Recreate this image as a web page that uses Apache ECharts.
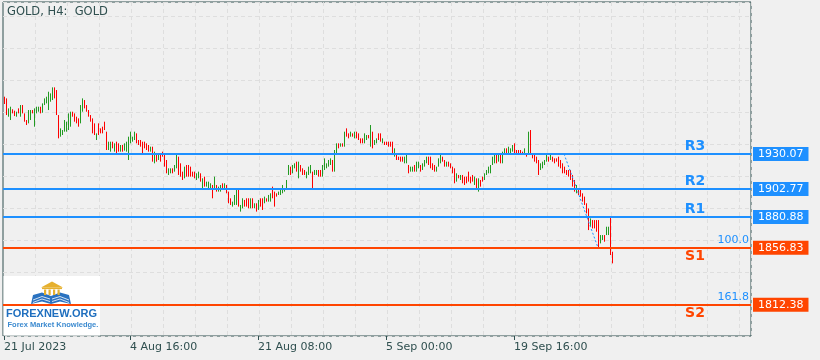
<!DOCTYPE html>
<html><head><meta charset="utf-8">
<script src="https://cdn.jsdelivr.net/npm/echarts@6/dist/echarts.min.js"></script>
<style>html,body{margin:0;padding:0;background:#f0f0f0;}#c{width:820px;height:360px;}</style>
</head><body><div id="c"></div>
<script>
// ---- data (H4 candles, prices) ----
const opens = [
1974.8,1973.5,1959.2,1956.6,1965.0,1963.9,1959.2,1965.7,1959.2,1968.3,
1961.8,1956.6,1954.0,1956.6,1964.4,1951.4,1961.8,1963.1,1967.0,1962.3,
1968.3,1969.6,1964.4,1970.9,1972.2,1982.1,1980.0,1960.5,1943.6,1944.9,
1947.5,1947.5,1948.8,1951.4,1963.1,1961.8,1959.2,1957.9,1954.0,1963.1,
1972.2,1968.3,1964.4,1960.5,1957.9,1954.0,1941.0,1954.0,1950.1,1951.4,
1955.3,1947.5,1933.2,1931.9,1939.7,1931.9,1939.7,1938.4,1931.9,1937.1,
1932.7,1931.9,1925.4,1938.4,1939.7,1941.0,1946.2,1941.0,1941.0,1939.7,
1939.7,1938.4,1937.1,1931.9,1935.8,1922.8,1929.3,1925.4,1930.6,1931.9,
1929.3,1925.4,1913.7,1915.0,1918.9,1916.3,1918.9,1928.0,1922.8,1916.3,
1911.1,1921.5,1921.5,1920.2,1916.3,1916.3,1909.8,1911.1,1915.0,1903.3,
1912.4,1904.6,1903.3,1903.3,1905.9,1903.3,1905.9,1900.7,1900.7,1907.2,
1902.0,1905.9,1900.7,1895.5,1889.0,1890.3,1890.3,1902.0,1885.1,1887.7,
1894.2,1895.5,1895.5,1887.7,1895.5,1887.7,1891.6,1886.4,1895.5,1895.5,
1891.6,1895.5,1892.9,1892.9,1904.6,1900.7,1899.4,1898.1,
1898.1,1899.4,1900.7,1902.0,1913.7,1920.2,1915.0,1918.9,1924.1,1911.1,
1921.5,1918.9,1917.6,1911.1,1913.7,1915.0,1916.3,1913.7,1913.7,1917.6,
1917.6,1912.4,1917.6,1918.9,1920.2,1921.5,1925.4,1916.3,1930.6,1938.4,
1935.8,1938.4,1935.8,1950.1,1946.2,1943.6,1946.2,1942.3,1947.5,1946.2,
1942.3,1942.3,1938.4,1941.0,1944.9,1935.8,1947.5,1937.1,1938.4,1946.2,
1946.2,1938.4,1939.7,1939.7,1939.7,1939.7,1939.7,1928.0,1929.3,1928.0,
1928.0,1928.0,1922.8,1922.8,1921.5,1916.3,1916.3,1921.5,1916.3,1918.9,
1921.5,1917.6,1920.2,1922.8,1928.0,1928.0,1922.8,1921.5,1916.3,1920.2,
1922.8,1928.0,1925.4,1920.2,1924.1,1922.8,1920.2,1918.9,1908.5,1913.7,
1909.8,1913.7,1912.4,1912.4,1916.3,1912.4,1913.7,1905.9,1911.1,1900.7,
1909.8,1912.4,1909.8,1913.7,1915.0,1915.0,1921.5,1922.8,1929.3,1924.1,
1929.3,1922.8,1930.6,1934.5,1930.6,1930.6,1931.9,1938.4,1933.2,1933.2,
1933.2,1931.9,1929.3,1930.6,1929.3,1948.8,1930.6,1930.6,1928.0,1925.4,
1917.6,1918.9,1921.5,1924.1,1928.0,1925.4,1928.0,1926.7,1926.7,1928.0,
1925.4,1922.8,1920.2,1917.6,1917.6,1917.6,1913.7,1909.8,1899.4,1903.3,
1902.0,1899.4,1896.8,1891.6,1887.6,1873.3,1878.5,1878.5,1878.5,1878.5,
1860.3,1862.9,1866.8,1866.8,1866.8,1881.1,1853.8
];
const closes = [
1969.1,1960.5,1965.7,1967.0,1961.8,1959.7,1963.1,1961.8,1968.3,1961.8,
1955.3,1952.7,1964.4,1964.4,1961.8,1965.7,1967.0,1967.0,1961.8,1969.6,
1973.5,1974.8,1978.7,1977.4,1982.1,1973.5,1960.5,1942.3,1950.1,1948.8,
1956.6,1955.3,1961.8,1963.1,1959.2,1955.3,1954.0,1951.4,1968.3,1973.5,
1965.7,1963.1,1959.2,1955.3,1946.2,1944.9,1946.2,1944.9,1946.2,1946.2,
1948.8,1933.2,1939.7,1939.7,1934.5,1938.4,1930.6,1931.9,1937.1,1931.9,
1938.4,1939.7,1943.6,1947.5,1943.6,1947.5,1938.4,1937.1,1935.8,1930.6,
1934.5,1933.2,1931.9,1935.8,1924.1,1931.9,1924.1,1929.3,1924.1,1928.0,
1920.2,1915.0,1918.9,1918.9,1915.0,1921.5,1929.3,1913.7,1912.4,1909.8,
1920.2,1912.4,1912.4,1912.4,1912.4,1911.1,1915.0,1916.3,1908.5,1911.1,
1904.6,1908.5,1908.5,1907.2,1895.5,1912.4,1900.7,1904.6,1905.9,1903.3,
1907.2,1899.4,1891.6,1890.3,1892.9,1898.1,1902.0,1889.0,1890.3,1895.5,
1889.0,1889.0,1887.7,1895.5,1887.7,1891.6,1885.1,1894.2,1889.0,1886.4,
1896.8,1892.9,1898.1,1899.4,1895.5,1889.0,1896.8,1900.7,
1902.0,1905.9,1903.3,1909.8,1921.5,1913.7,1921.5,1922.8,1916.3,1924.1,
1916.3,1913.7,1913.7,1916.3,1920.2,1921.5,1903.3,1917.6,1917.6,1912.4,
1912.4,1921.5,1926.7,1922.8,1925.4,1926.7,1916.3,1933.2,1938.4,1934.5,
1938.4,1935.8,1947.5,1943.6,1942.3,1947.5,1943.6,1947.5,1942.3,1941.0,
1938.4,1938.4,1946.2,1944.9,1942.3,1952.7,1934.5,1941.0,1942.3,1941.0,
1939.7,1942.3,1937.1,1937.1,1935.8,1935.8,1930.6,1934.5,1925.4,1925.4,
1924.1,1924.1,1928.0,1929.3,1915.0,1920.2,1920.2,1916.3,1924.1,1924.1,
1916.3,1922.8,1925.4,1928.0,1921.5,1918.9,1917.6,1916.3,1920.2,1926.7,
1929.3,1924.1,1920.2,1924.1,1920.2,1918.9,1915.0,1907.2,1915.0,1911.1,
1913.7,1907.2,1905.9,1907.2,1908.5,1907.2,1908.5,1912.4,1902.0,1911.1,
1904.6,1908.5,1915.0,1917.6,1920.2,1921.5,1928.0,1930.6,1922.8,1930.6,
1922.8,1931.9,1934.5,1930.6,1935.8,1934.5,1937.1,1930.6,1930.6,1930.6,
1929.3,1929.3,1934.5,1928.0,1947.5,1929.3,1926.7,1924.1,1922.8,1913.7,
1922.8,1924.1,1925.4,1929.3,1924.1,1929.3,1924.1,1922.8,1924.1,1920.2,
1918.9,1915.0,1915.0,1913.7,1912.4,1909.8,1904.6,1900.7,1905.9,1898.1,
1896.8,1892.9,1890.3,1883.7,1870.7,1879.8,1872.0,1872.0,1869.4,1857.0,
1866.8,1866.8,1861.6,1873.3,1873.3,1851.2,1844.7
];
const xLabels = ['21 Jul 2023','4 Aug 16:00','21 Aug 08:00','5 Sep 00:00','19 Sep 16:00'];
const xLabelIdx = [0, 63, 127, 191, 255];
const slotCount = 374;
const levelValues = [1930.07, 1902.77, 1880.88, 1856.83, 1812.38];
const levelNames = ['R3', 'R2', 'R1', 'S1', 'S2'];
const fibLevelNames = ['', '', '', '100.0', '161.8'];
const fibLine = [[280, 1930.2], [297, 1857.0]];
const chartTitle = 'GOLD, H4:  GOLD';

// ---- build ----
const BLUE = '#1e90ff', RED = '#ff4500', INK = '#2f4f4f';
const BULL = '#229a22', BEAR = '#ff0000';
const cats = [];
for (let i = 0; i < slotCount; i++) {
  const k = xLabelIdx.indexOf(i);
  cats.push(k >= 0 ? xLabels[k] : '');
}
const candleData = opens.map((o, i) => [i, o, closes[i]]);
const isRes = n => n.charAt(0) === 'R';

const chart = echarts.init(document.getElementById('c'), null, {renderer: 'canvas'});
const levelLines = levelValues.map((v, i) => ({
  yAxis: v,
  lineStyle: {color: isRes(levelNames[i]) ? BLUE : RED, width: 2, type: 'solid'},
  label: {
    show: true, position: 'end', distance: 2,
    formatter: v.toFixed(2),
    color: '#ffffff', fontSize: 11, fontFamily: 'DejaVu Sans',
    backgroundColor: isRes(levelNames[i]) ? BLUE : RED,
    padding: [1, 5, 0, 5], lineHeight: 13
  }
}));
levelLines.push([
  {coord: fibLine[0], lineStyle: {color: BLUE, width: 1, type: [2, 2]}, label: {show: false}},
  {coord: fibLine[1]}
]);

function renderCandle(params, api) {
  const i = api.value(0), o = api.value(1), c = api.value(2);
  const p1 = api.coord([i, o]);
  const p2 = api.coord([i, c]);
  const x = Math.round(p1[0]) + 0.5;
  let yTop = Math.min(p1[1], p2[1]), yBot = Math.max(p1[1], p2[1]);
  if (yBot - yTop < 1) yBot = yTop + 1;
  return {
    type: 'line',
    shape: {x1: x, y1: yTop, x2: x, y2: yBot},
    style: {stroke: c >= o ? BULL : BEAR, lineWidth: 1}
  };
}

chart.setOption({
  animation: false,
  backgroundColor: '#f0f0f0',
  textStyle: {fontFamily: 'DejaVu Sans'},
  title: {
    text: chartTitle, left: 7, top: 6, padding: 0,
    textStyle: {fontSize: 11.5, fontWeight: 'normal', color: INK, fontFamily: 'DejaVu Sans'}
  },
  grid: {
    left: 3, right: 69, top: 2, bottom: 24,
    show: true, borderColor: INK, borderWidth: 1, backgroundColor: '#f0f0f0'
  },
  xAxis: {
    type: 'category', data: cats, boundaryGap: true,
    axisLine: {show: false},
    axisTick: {
      show: true, alignWithLabel: true, length: 4,
      interval: (idx) => xLabelIdx.indexOf(idx) >= 0,
      lineStyle: {color: INK}
    },
    axisLabel: {
      show: true, interval: (idx) => xLabelIdx.indexOf(idx) >= 0,
      align: 'left', margin: 6, color: INK, fontSize: 11, fontFamily: 'DejaVu Sans'
    },
    splitLine: {
      show: true, interval: (idx) => idx > 0 && idx % 16 === 0,
      lineStyle: {color: '#dedede', type: [4, 3], width: 1}
    }
  },
  yAxis: {
    type: 'value', position: 'right', min: 1788.0, max: 2048.74, interval: 25,
    axisLine: {show: false}, axisTick: {show: false}, axisLabel: {show: false},
    splitLine: {show: true, lineStyle: {color: '#dedede', type: [4, 3], width: 1}}
  },
  series: [{
    type: 'custom',
    renderItem: renderCandle,
    encode: {x: 0, y: [1, 2]},
    data: candleData,
    clip: true,
    z: 3,
    markLine: {
      silent: true, symbol: ['none', 'none'], animation: false,
      data: levelLines
    }
  }]
});

// ---- text annotations & logo ----
const g = [];
levelValues.forEach((v, i) => {
  const y = chart.convertToPixel({yAxisIndex: 0}, v);
  const res = isRes(levelNames[i]);
  g.push({
    type: 'text', z: 10,
    style: {
      text: levelNames[i], x: 695, y: res ? y - 8 : y + 9,
      align: 'center', verticalAlign: 'middle',
      font: 'bold 14px "DejaVu Sans"', fill: res ? BLUE : RED
    }
  });
  if (fibLevelNames[i]) {
    g.push({
      type: 'text', z: 10,
      style: {
        text: fibLevelNames[i], x: 749, y: y - 8,
        align: 'right', verticalAlign: 'middle',
        font: '11px "DejaVu Sans"', fill: BLUE
      }
    });
  }
});
// logo block
g.push({type: 'rect', z: 1, shape: {x: 3.5, y: 276, width: 96.5, height: 59.5}, style: {fill: '#ffffff'}});
g.push({type: 'polygon', z: 1, shape: {points: [[31, 304], [33, 295], [42, 292.5], [51, 296], [60, 292.5], [69, 295], [71, 304], [60, 301.5], [51, 304], [42, 301.5]]}, style: {fill: '#2a72c0'}});
[[297.5, 299], [300, 301.5]].forEach(p => {
  g.push({type: 'polyline', z: 1, shape: {points: [[33, p[1] + 1], [42, p[0] - 1], [50, p[1]]]}, style: {stroke: '#ffffff', lineWidth: 0.8, fill: null}});
  g.push({type: 'polyline', z: 1, shape: {points: [[52, p[1]], [60, p[0] - 1], [69, p[1] + 1]]}, style: {stroke: '#ffffff', lineWidth: 0.8, fill: null}});
});
g.push({type: 'polygon', z: 1, shape: {points: [[41, 287.5], [52, 281.5], [63, 287.5]]}, style: {fill: '#e6b02e'}});
g.push({type: 'rect', z: 1, shape: {x: 42, y: 287.5, width: 20, height: 1.6}, style: {fill: '#e6b02e'}});
[44, 48.5, 53, 57.5].forEach(x => {
  g.push({type: 'rect', z: 1, shape: {x: x, y: 289.5, width: 2.2, height: 5.5}, style: {fill: '#e6b02e'}});
});
g.push({type: 'text', z: 1, style: {text: 'FOREXNEW.ORG', x: 6, y: 314, verticalAlign: 'middle', font: 'bold 11px "Liberation Sans"', fill: '#1f6fbf'}});
g.push({type: 'text', z: 1, style: {text: 'Forex Market Knowledge.', x: 7.5, y: 325, verticalAlign: 'middle', font: 'bold 7.5px "Liberation Sans"', fill: '#3d8bd0'}});
chart.setOption({graphic: g});
</script></body></html>
